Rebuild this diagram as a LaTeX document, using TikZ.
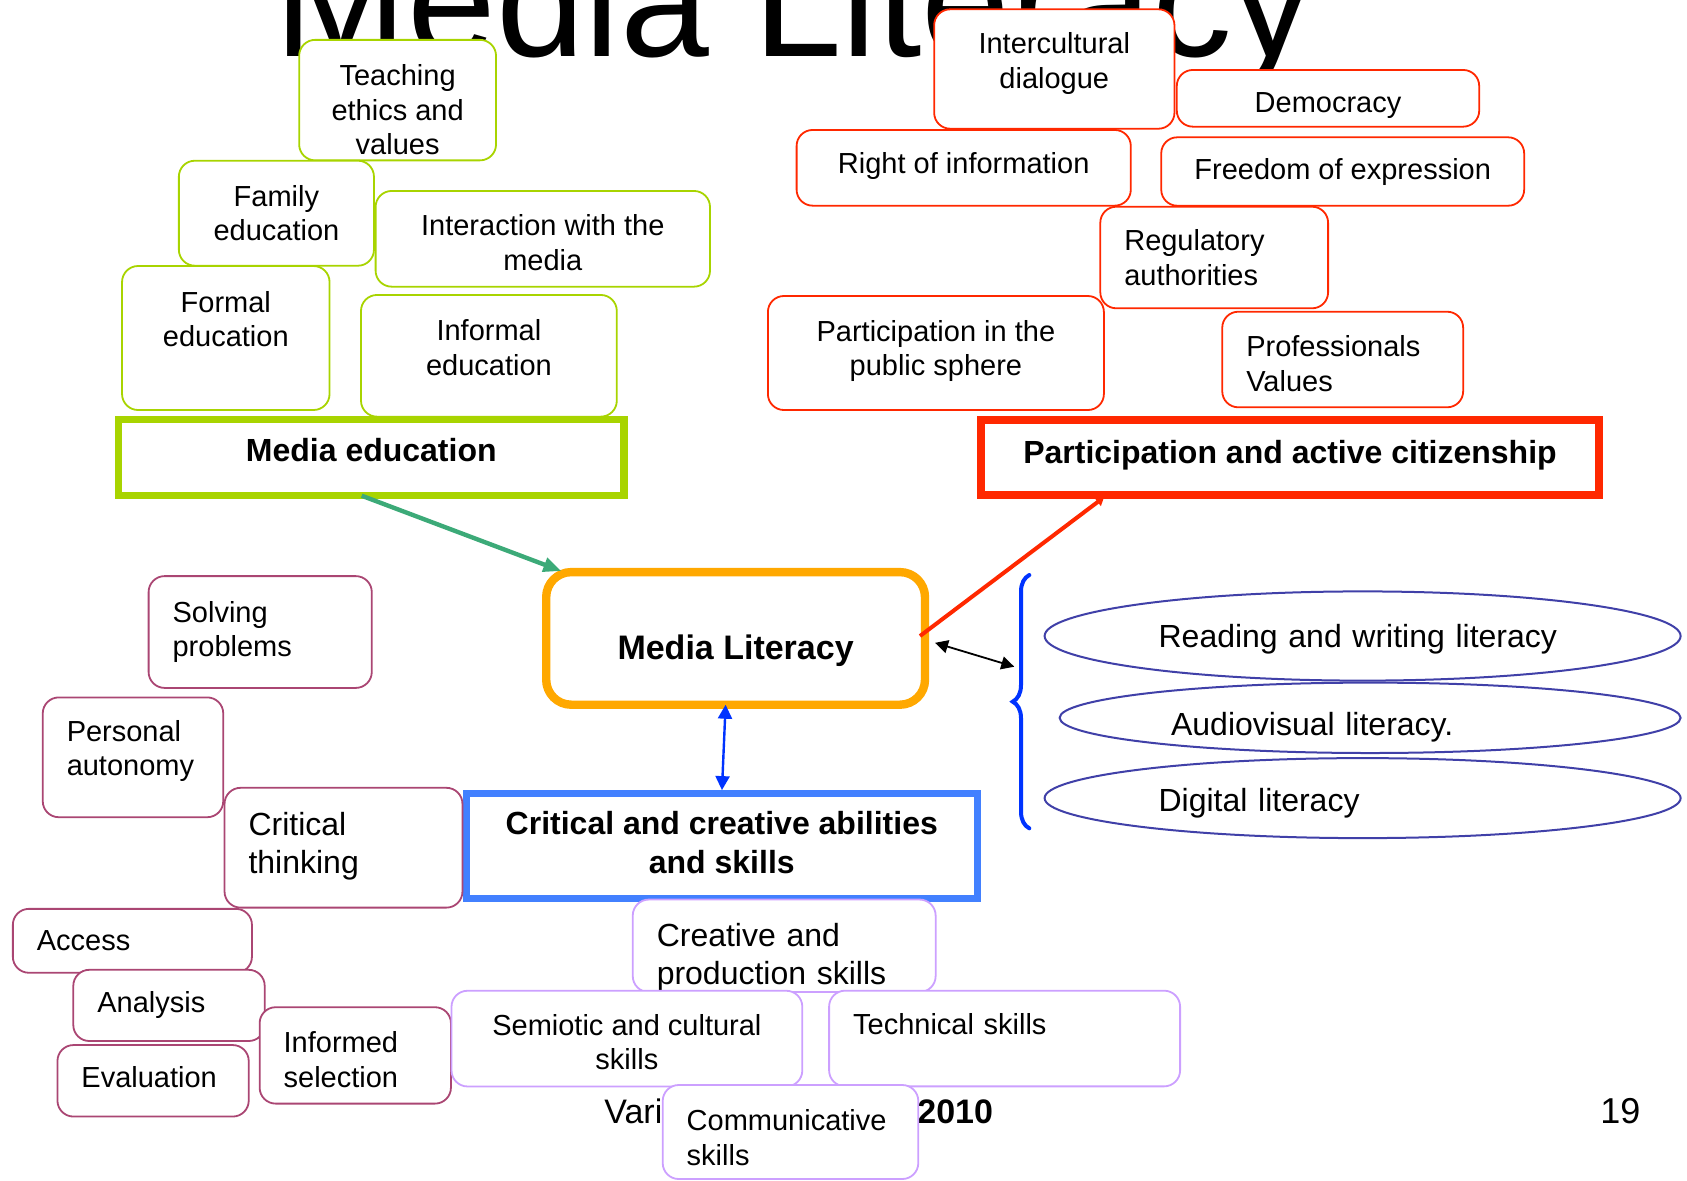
\documentclass[tikz,border=0pt]{standalone}
\usepackage{fontspec}
\setmainfont{Liberation Sans}
\usepackage{tikz}
\usetikzlibrary{shapes.geometric, arrows.meta, decorations.pathreplacing}

\definecolor{edugreen}{RGB}{168,212,0}
\definecolor{arrowgreen}{RGB}{60,170,120}
\definecolor{citred}{RGB}{255,40,0}
\definecolor{litorange}{RGB}{255,168,0}
\definecolor{skillblue}{RGB}{66,128,255}
\definecolor{bracblue}{RGB}{0,51,255}
\definecolor{ellblue}{RGB}{64,64,168}
\definecolor{critmaroon}{RGB}{170,70,115}
\definecolor{softpurple}{RGB}{204,160,255}

\newcommand{\boxfont}{\fontsize{14.5}{17.25}\selectfont}
\newcommand{\bigboxfont}{\fontsize{16}{18.8}\selectfont}
\newcommand{\headfont}{\fontsize{16}{19.4}\selectfont\bfseries}

\tikzstyle{gbox} = [draw=edugreen, line width=0.9pt, rounded corners=8pt, fill=white, align=center, inner sep=0pt, font=\boxfont]
\tikzstyle{rbox} = [gbox, draw=citred]
\tikzstyle{mbox} = [gbox, draw=critmaroon, align=left, inner xsep=12pt]
\tikzstyle{pbox} = [gbox, draw=softpurple]
\tikzstyle{head} = [draw, fill=white, align=center, inner sep=0pt, outer sep=0pt, font=\headfont]
\tikzstyle{ell} = [ellipse, draw=ellblue, line width=1pt, fill=white, inner sep=0pt, align=left, font=\bigboxfont]
\tikzstyle{curly} = [draw=bracblue, line width=2pt, line cap=round, decorate, decoration={brace, amplitude=8.3pt}]
\tikzstyle{eduarrow} = [draw=arrowgreen, line width=2.2pt, -{Triangle[length=9pt,width=7pt]}, arrowgreen]
\tikzstyle{citarrow} = [draw=citred, line width=2pt, -{Triangle[length=4pt,width=5pt]}, citred]
\tikzstyle{lnkarrow} = [draw=black, line width=0.9pt, {Triangle[length=6.5pt,width=6.5pt]}-{Triangle[length=6.5pt,width=6.5pt]}]
\tikzstyle{skillarrow} = [draw=bracblue, line width=1.2pt, {Triangle[length=7pt,width=7pt]}-{Triangle[length=7pt,width=7pt]}, bracblue]

% text shifts inside a box
\tikzset{tup/.style={execute at end node={\rule[-#1]{0pt}{#1}}},
         tdown/.style={execute at begin node={\rule{0pt}{#1}}}}

\begin{document}
\begin{tikzpicture}[x=0.5pt, y=-0.5pt]

        \useasboundingbox (0,0) rectangle (1687,1180);

        % Title and footer
        \node at (274,56) [anchor=base west, inner sep=0pt, font=\fontsize{79.8}{80}\selectfont] (title) {Media Literacy};
        \node at (604,1123) [anchor=base west, inner sep=0pt, font=\fontsize{17}{20}\selectfont] (footname) {Vari};
        \node at (917,1123) [anchor=base west, inner sep=0pt, font=\fontsize{17}{20}\selectfont\bfseries] (footyear) {2010};
        \node at (1600,1123) [anchor=base west, inner sep=0pt, font=\fontsize{18}{20}\selectfont] (pagenum) {19};

        % Media education
        \node at (397.6,100.1) [gbox, minimum width=98.45pt, minimum height=60.25pt, tdown=54.8pt] (teach) {Teaching\\ethics and\\values};
        \node at (276.4,213.2) [gbox, minimum width=97.55pt, minimum height=52.5pt] (family) {Family\\education};
        \node at (542.8,238.8) [gbox, minimum width=167.2pt, minimum height=47.85pt, tdown=31.6pt] (interact) {Interaction with the\\media};
        \node at (225.8,338) [gbox, minimum width=103.75pt, minimum height=72pt, tup=19pt] (formal) {Formal\\education};
        \node at (488.9,355.8) [gbox, minimum width=127.9pt, minimum height=60.85pt, tup=8.5pt] (informal) {Informal\\education};
        \node at (371.3,457.6) [head, draw=edugreen, line width=3.7pt, minimum width=252.55pt, minimum height=38.1pt, tup=7.8pt] (mediaedu) {Media education};

        % Participation and active citizenship
        \node at (1054.3,69) [rbox, minimum width=120.15pt, minimum height=59.7pt, tup=8.5pt] (intercult) {Intercultural\\dialogue};
        \node at (1328,98.3) [rbox, minimum width=151.2pt, minimum height=28.35pt, tdown=17pt] (democracy) {Democracy};
        \node at (963.7,167.8) [rbox, minimum width=167.1pt, minimum height=37.85pt, tup=5.3pt] (rightinfo) {Right of information};
        \node at (1342.7,171.5) [rbox, minimum width=181.45pt, minimum height=34.2pt] (freedom) {Freedom of expression};
        \node at (1214.2,257.5) [rbox, align=left, inner xsep=12pt, text width=89.9pt, minimum height=50.8pt] (regul) {Regulatory\\authorities};
        \node at (935.9,353) [rbox, minimum width=168pt, minimum height=57pt, tup=5pt] (particip) {Participation in the\\public sphere};
        \node at (1342.7,359.5) [rbox, align=left, inner xsep=12pt, text width=96.45pt, minimum height=47.8pt, tdown=14.8pt] (prof) {Professionals\\Values};
        \node at (1290,457.4) [head, draw=citred, line width=4pt, minimum width=309.35pt, minimum height=37.35pt, tup=5.9pt] (partcit) {Participation and active citizenship};

        % Media literacy
        \node at (735.6,638.4) [head, draw=litorange, line width=4.2pt, rounded corners=12.5pt, minimum width=189.4pt, minimum height=66.3pt, tdown=25pt, font=\fontsize{17}{20}\selectfont\bfseries] (medialit) {Media Literacy};

        % Critical and creative abilities
        \node at (721.8,846.1) [head, draw=skillblue, line width=3.6pt, minimum width=255.6pt, minimum height=52.4pt, tup=3.4pt] (critcre) {Critical and creative abilities\\and skills};

        % Literacies
        \node at (1362.6,636) [ell, minimum width=318pt, minimum height=44.6pt, text width=204pt, tdown=14.9pt] (reading) {Reading and writing literacy};
        \node at (1370.1,717.8) [ell, minimum width=310.5pt, minimum height=35.2pt, text width=199pt, tdown=20.7pt] (audio) {Audiovisual literacy.};
        \node at (1362.6,798.1) [ell, minimum width=318pt, minimum height=40pt, text width=204pt, tdown=17.1pt] (digital) {Digital literacy};
        \coordinate (brtop) at (1029.3,575);
        \coordinate (brbot) at (1029.3,828.3);
        \coordinate (bracein) at (1014.3,666.7);
        \draw [curly] (brbot) -- (brtop);

        % Critical abilities
        \node at (260.2,632) [mbox, text width=87.6pt, minimum height=55.9pt] (solving) {Solving\\problems};
        \node at (133,757.3) [mbox, text width=66.25pt, minimum height=59.9pt, tup=9.5pt] (personal) {Personal\\autonomy};
        \node at (343.5,847.7) [mbox, text width=94.95pt, minimum height=59.9pt, tup=4.9pt, font=\fontsize{16}{19.1}\selectfont] (critical) {Critical\\thinking};
        \node at (132.4,940.8) [mbox, text width=95.55pt, minimum height=31.95pt] (access) {Access};
        \node at (169,1005.4) [mbox, text width=71.7pt, minimum height=35.6pt] (analysis) {Analysis};
        \node at (153.1,1080.8) [mbox, text width=71.65pt, minimum height=35.75pt, tup=3.9pt] (evaluation) {Evaluation};
        \node at (355.3,1055.4) [mbox, text width=71.65pt, minimum height=48.2pt, tdown=14.5pt] (informed) {Informed\\selection};

        % Creative skills
        \node at (784.2,945.8) [pbox, align=left, inner xsep=12pt, text width=127.45pt, minimum height=46.25pt, tdown=23pt, font=\bigboxfont] (creative) {Creative and\\production skills};
        \node at (626.9,1038.6) [pbox, minimum width=175.4pt, minimum height=47.85pt, tdown=31.05pt] (semiotic) {Semiotic and cultural\\skills};
        \node at (1004.6,1038.5) [pbox, align=left, inner xsep=12pt, text width=151.5pt, minimum height=47.85pt, tup=14.7pt] (technical) {Technical skills};
        \node at (790.5,1132) [pbox, align=left, inner xsep=12pt, text width=103.8pt, minimum height=47pt, tdown=16pt] (communic) {Communicative\\skills};

        % Connections
        \draw [eduarrow, shorten >=1.5pt] ([xshift=-4.8pt]mediaedu.south) -- ([xshift=9pt]medialit.north west);
        \draw [citarrow, shorten >=2pt] ([xshift=-2.5pt,yshift=1.2pt]medialit.east) -- ([xshift=63.3pt]partcit.south west);
        \draw [lnkarrow] ([xshift=5pt,yshift=-2.2pt]medialit.east) -- (bracein);
        \draw [skillarrow, shorten >=1.8pt] ([xshift=-5pt]medialit.south) -- (critcre.north);

\end{tikzpicture}
\end{document}
